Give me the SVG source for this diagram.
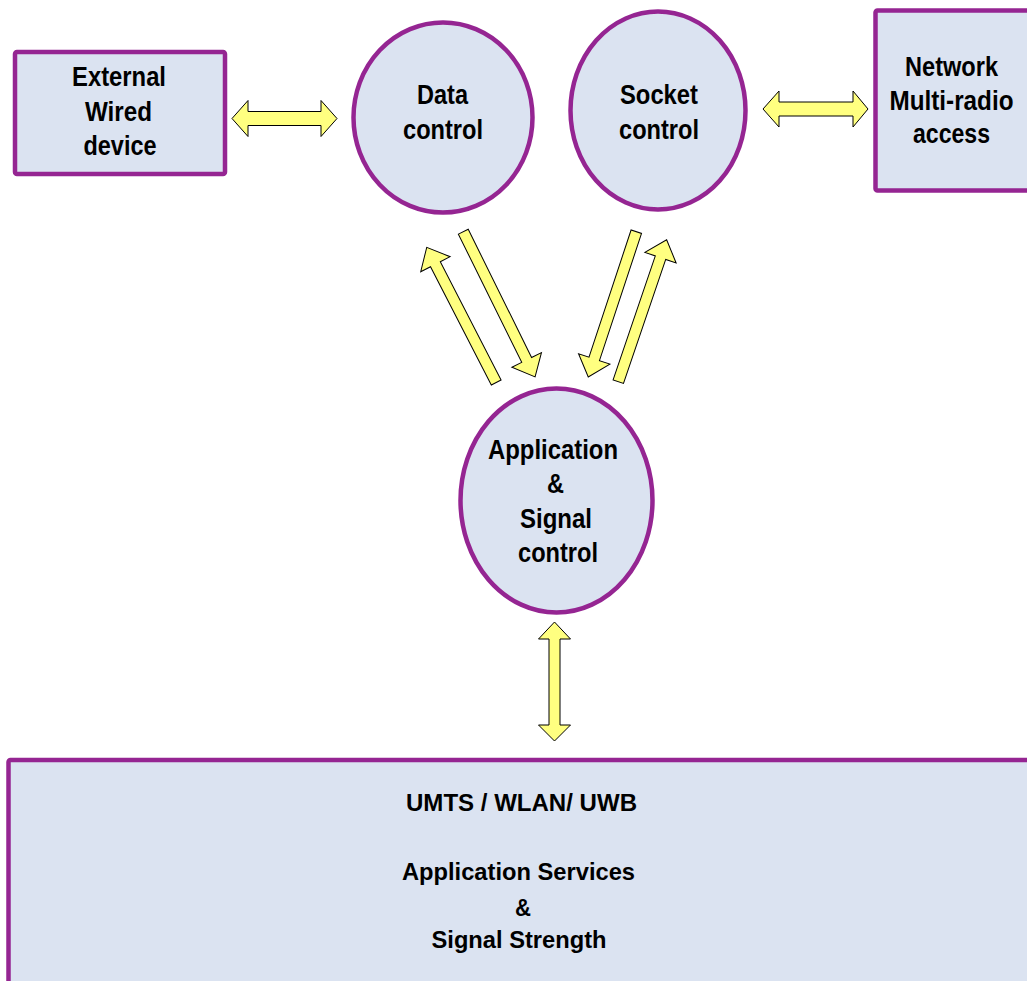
<svg xmlns="http://www.w3.org/2000/svg" width="1027" height="981" viewBox="0 0 1027 981">
<style>
.node{fill:#dbe3f1;stroke:#952592;stroke-width:4.5}
.arr{fill:#ffff80;stroke:#000;stroke-width:1}
text{font-family:"Liberation Sans Narrow","Liberation Sans",Arial,sans-serif;font-weight:bold;font-size:27px;fill:#000;text-anchor:middle}
.sm{font-size:24px}
</style>
<rect width="1027" height="981" fill="#fff"/>
<g id="connectors">
<polygon class="arr" points="232,118.5 248,100.5 248,111.5 321,111.5 321,100.5 337,118.5 321,136.5 321,125.5 248,125.5 248,136.5"/>
<polygon class="arr" points="763,109 779,91 779,102 853,102 853,91 868,109 853,127 853,116 779,116 779,127"/>
<polygon class="arr" points="554.5,622 570.5,639 560,639 560,725 570.5,725 554.5,741 538.5,725 549,725 549,639 538.5,639"/>
<g transform="translate(496.2,382.5) rotate(-117.2)"><polygon class="arr" points="0,-5.5 133,-5.5 133,-16.5 152,0 133,16.5 133,5.5 0,5.5"/></g>
<g transform="translate(463.3,231.7) rotate(63.7)"><polygon class="arr" points="0,-5.5 143,-5.5 143,-16.5 162,0 143,16.5 143,5.5 0,5.5"/></g>
<g transform="translate(636.3,231.7) rotate(108.3)"><polygon class="arr" points="0,-5.5 134,-5.5 134,-16.5 153,0 134,16.5 134,5.5 0,5.5"/></g>
<g transform="translate(618.3,381.7) rotate(-71.2)"><polygon class="arr" points="0,-5.5 131,-5.5 131,-16.5 150,0 131,16.5 131,5.5 0,5.5"/></g>
</g>
<g id="external">
<rect class="node" x="15" y="52" width="210" height="122" rx="2"/>
<text x="119" y="86" textLength="94" lengthAdjust="spacingAndGlyphs">External</text>
<text x="118.5" y="121" textLength="67" lengthAdjust="spacingAndGlyphs">Wired</text>
<text x="120" y="155" textLength="73" lengthAdjust="spacingAndGlyphs">device</text>
</g>
<g id="data-control">
<ellipse class="node" cx="443" cy="117.5" rx="89.5" ry="95"/>
<text x="442.5" y="104" textLength="51" lengthAdjust="spacingAndGlyphs">Data</text>
<text x="443" y="139" textLength="80" lengthAdjust="spacingAndGlyphs">control</text>
</g>
<g id="socket-control">
<ellipse class="node" cx="658" cy="110.5" rx="87.5" ry="99"/>
<text x="659" y="104" textLength="78" lengthAdjust="spacingAndGlyphs">Socket</text>
<text x="659" y="139" textLength="80" lengthAdjust="spacingAndGlyphs">control</text>
</g>
<g id="network">
<rect class="node" x="875.5" y="10.5" width="160" height="180" rx="2"/>
<text x="951.5" y="76" textLength="93" lengthAdjust="spacingAndGlyphs">Network</text>
<text x="951.5" y="110" textLength="124" lengthAdjust="spacingAndGlyphs">Multi-radio</text>
<text x="951.5" y="143" textLength="77" lengthAdjust="spacingAndGlyphs">access</text>
</g>
<g id="app-signal">
<ellipse class="node" cx="556.5" cy="500.5" rx="96" ry="112"/>
<text x="553" y="459" textLength="130" lengthAdjust="spacingAndGlyphs">Application</text>
<text x="555.5" y="493" textLength="17" lengthAdjust="spacingAndGlyphs">&amp;</text>
<text x="556" y="528" textLength="72" lengthAdjust="spacingAndGlyphs">Signal</text>
<text x="558" y="562" textLength="80" lengthAdjust="spacingAndGlyphs">control</text>
</g>
<g id="services">
<rect class="node" x="8.5" y="760" width="1030" height="230" rx="2"/>
<text class="sm" x="521.5" y="811" textLength="231" lengthAdjust="spacingAndGlyphs">UMTS / WLAN/ UWB</text>
<text class="sm" x="518.5" y="880" textLength="233" lengthAdjust="spacingAndGlyphs">Application Services</text>
<text class="sm" x="523" y="916" textLength="16" lengthAdjust="spacingAndGlyphs">&amp;</text>
<text class="sm" x="519" y="948" textLength="175" lengthAdjust="spacingAndGlyphs">Signal Strength</text>
</g>
</svg>
